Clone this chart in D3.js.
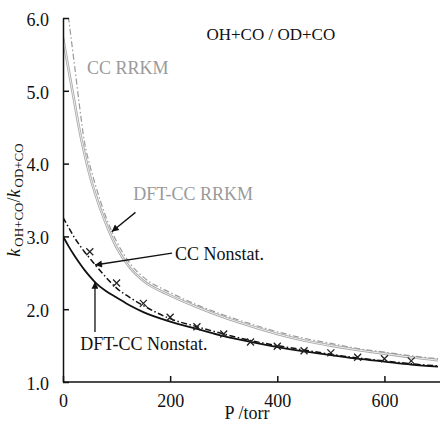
<!DOCTYPE html>
<html>
<head>
<meta charset="utf-8">
<script src="https://cdn.jsdelivr.net/npm/d3@7"></script>
<style>
  body { margin: 0; background: #fff; }
</style>
</head>
<body>
<svg width="440" height="423"></svg>
<script>
var serif = "'Liberation Serif'";

// pressure grid (torr) shared by the computed curves
var pressure = [0, 10, 20, 30, 40, 50, 60, 80, 100, 125, 150, 200, 250, 300, 350, 400, 450, 500, 550, 600, 650, 700];

// gray curves (RRKM)
var ccRrkm = [5.73, 5.31, 4.90, 4.49, 4.14, 3.84, 3.59, 3.18, 2.85, 2.57, 2.39, 2.19, 2.03, 1.89, 1.77, 1.66, 1.57, 1.50, 1.44, 1.39, 1.34, 1.30];
var dftPressure = [10, 20, 30, 40, 50, 60, 80, 100, 125, 150, 200, 250, 300, 350, 400, 450, 500, 550, 600, 650, 700];
var dftCcRrkm = [6.02, 5.44, 4.84, 4.30, 3.98, 3.72, 3.27, 2.93, 2.63, 2.44, 2.23, 2.06, 1.92, 1.80, 1.69, 1.60, 1.53, 1.46, 1.41, 1.36, 1.32];

// black curves (nonstationary)
var ccNonstat = [3.26, 3.13, 3.00, 2.89, 2.79, 2.70, 2.61, 2.44, 2.29, 2.16, 2.05, 1.87, 1.76, 1.66, 1.57, 1.50, 1.44, 1.38, 1.33, 1.29, 1.25, 1.22];
var dftCcNonstat = [3.00, 2.87, 2.75, 2.64, 2.54, 2.45, 2.37, 2.25, 2.16, 2.05, 1.96, 1.83, 1.73, 1.63, 1.55, 1.48, 1.42, 1.37, 1.32, 1.28, 1.24, 1.21];

// experiment (crosses)
var expPressure = [50, 100, 150, 200, 250, 300, 350, 400, 450, 500, 550, 600, 650];
var expRatio = [2.79, 2.36, 2.08, 1.89, 1.76, 1.66, 1.55, 1.49, 1.43, 1.40, 1.34, 1.32, 1.29];

var xTicks = [0, 200, 400, 600];
var yTicks = [1, 2, 3, 4, 5, 6];

// annotations in data units: [P, ratio]
var labels = [
  { text: "CC RRKM", p: 45, v: 5.23, color: "#9a9a9a" },
  { text: "DFT-CC RRKM", p: 131, v: 3.5, color: "#9a9a9a" },
  { text: "CC Nonstat.", p: 209, v: 2.676, color: "#111" },
  { text: "DFT-CC Nonstat.", p: 32, v: 1.44, color: "#111" }
];
var arrows = [
  { from: [135.3, 3.33], to: [90.9, 3.065] },
  { from: [203.5, 2.77], to: [59.7, 2.607] },
  { from: [59.7, 1.687], to: [59.7, 2.378] }
];

var svg = d3.select("svg"),
  width = +svg.attr("width"),
  height = +svg.attr("height");

var x = d3.scaleLinear().domain([0, 700]).range([63, 438]);
var y = d3.scaleLinear().domain([1, 6]).range([382, 18]);

svg.append("rect").attr("width", width).attr("height", height).attr("fill", "#fff");

svg.append("defs")
  .append("clipPath")
  .attr("id", "plot")
  .append("rect")
  .attr("x", x(0))
  .attr("y", y(6))
  .attr("width", x(700) - x(0))
  .attr("height", y(1) - y(6));

var line = function (xs, ys) {
  return d3.line()
    .x(function (d, i) { return x(xs[i]); })
    .y(function (d) { return y(d); })
    .curve(d3.curveMonotoneX)(ys);
};

var curves = svg.append("g").attr("clip-path", "url(#plot)");

// gray solid drawn as a hollow double line like the scan
curves.append("path")
  .attr("d", line(pressure, ccRrkm))
  .attr("fill", "none")
  .attr("stroke", "#a8a8a8")
  .attr("stroke-width", 2.6);
curves.append("path")
  .attr("d", line(pressure, ccRrkm))
  .attr("fill", "none")
  .attr("stroke", "#fff")
  .attr("stroke-width", 0.8);

curves.append("path")
  .attr("d", line(dftPressure, dftCcRrkm))
  .attr("fill", "none")
  .attr("stroke", "#9a9a9a")
  .attr("stroke-width", 1.2)
  .attr("stroke-dasharray", "6,2.5,1.5,2.5");

curves.append("path")
  .attr("d", line(pressure, ccNonstat))
  .attr("fill", "none")
  .attr("stroke", "#111")
  .attr("stroke-width", 1.5)
  .attr("stroke-dasharray", "6,2.5,1.5,2.5");

curves.append("path")
  .attr("d", line(pressure, dftCcNonstat))
  .attr("fill", "none")
  .attr("stroke", "#111")
  .attr("stroke-width", 1.8);

// crosses
svg.append("g")
  .selectAll("path")
  .data(expPressure)
  .enter()
  .append("path")
  .attr("transform", function (d, i) {
    return "translate(" + x(d) + "," + y(expRatio[i]) + ")";
  })
  .attr("d", "M-3.5,-3.5L3.5,3.5M-3.5,3.5L3.5,-3.5")
  .attr("stroke", "#222")
  .attr("stroke-width", 1.3);

// axes
var xAxis = svg.append("g")
  .attr("transform", "translate(0," + y(1) + ")")
  .call(d3.axisBottom(x).tickValues(xTicks).tickSizeInner(-6).tickSizeOuter(0).tickPadding(12).tickFormat(d3.format("d")));
var yAxis = svg.append("g")
  .attr("transform", "translate(" + x(0) + ",0)")
  .call(d3.axisLeft(y).tickValues(yTicks).tickSizeInner(-6).tickSizeOuter(0).tickPadding(14).tickFormat(d3.format(".1f")));

[xAxis, yAxis].forEach(function (a) {
  a.select(".domain").attr("stroke", "#111").attr("stroke-width", 1.5);
  a.selectAll(".tick line").attr("stroke", "#111").attr("stroke-width", 1.5);
  a.selectAll(".tick text")
    .attr("fill", "#111")
    .style("font-family", serif)
    .style("font-size", "18px");
});
xAxis.select(".domain").attr("d", "M" + x(0) + ",0H" + width);
yAxis.selectAll(".tick text").attr("dy", "0.4em");

// axis titles
svg.append("text")
  .attr("x", 247)
  .attr("y", 419)
  .attr("text-anchor", "middle")
  .style("font-family", serif)
  .style("font-size", "18px")
  .attr("fill", "#111")
  .text("P /torr");

var ylab = svg.append("text")
  .attr("transform", "translate(20,200) rotate(-90)")
  .attr("text-anchor", "middle")
  .style("font-family", serif)
  .style("font-size", "18px")
  .attr("fill", "#111");
ylab.append("tspan").style("font-style", "italic").text("k");
ylab.append("tspan").style("font-size", "13px").attr("dy", 3).attr("dx", 2).text("OH+CO");
ylab.append("tspan").attr("dy", -3).text("/");
ylab.append("tspan").style("font-style", "italic").text("k");
ylab.append("tspan").style("font-size", "13px").attr("dy", 3).attr("dx", 2).text("OD+CO");

// title
svg.append("text")
  .attr("x", x(388))
  .attr("y", y(5.70))
  .attr("text-anchor", "middle")
  .style("font-family", serif)
  .style("font-size", "17px")
  .attr("fill", "#111")
  .text("OH+CO / OD+CO");

// curve labels
svg.append("g")
  .selectAll("text")
  .data(labels)
  .enter()
  .append("text")
  .attr("x", function (d) { return x(d.p); })
  .attr("y", function (d) { return y(d.v); })
  .style("font-family", serif)
  .style("font-size", "18px")
  .attr("fill", function (d) { return d.color; })
  .text(function (d) { return d.text; });

// arrows
svg.append("defs")
  .append("marker")
  .attr("id", "head")
  .attr("viewBox", "0 0 10 10")
  .attr("refX", 10)
  .attr("refY", 5)
  .attr("markerWidth", 10)
  .attr("markerHeight", 7)
  .attr("markerUnits", "userSpaceOnUse")
  .attr("orient", "auto")
  .append("path")
  .attr("d", "M0,0L10,5L0,10Z")
  .attr("fill", "#111");

svg.append("g")
  .selectAll("line")
  .data(arrows)
  .enter()
  .append("line")
  .attr("x1", function (d) { return x(d.from[0]); })
  .attr("y1", function (d) { return y(d.from[1]); })
  .attr("x2", function (d) { return x(d.to[0]); })
  .attr("y2", function (d) { return y(d.to[1]); })
  .attr("stroke", "#111")
  .attr("stroke-width", 1.3)
  .attr("marker-end", "url(#head)");
</script>
</body>
</html>
